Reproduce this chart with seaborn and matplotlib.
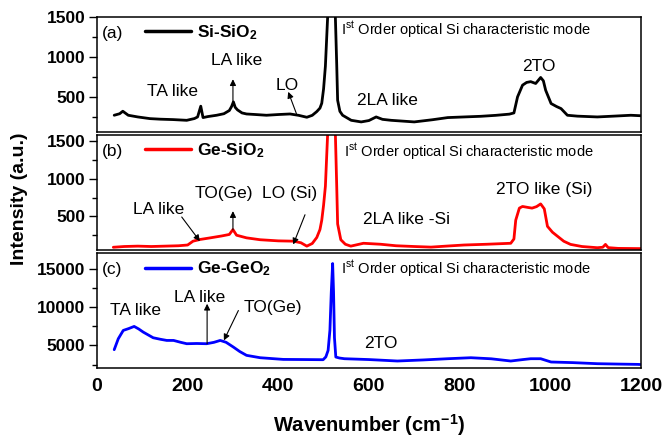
import matplotlib
matplotlib.use("Agg")
import matplotlib.pyplot as plt
import seaborn as sns
import pandas as pd
from matplotlib.ticker import MultipleLocator, AutoMinorLocator

# Raman spectra (wavenumber in cm^-1, intensity in a.u.)
wn_a = [38, 50, 57, 69, 90, 117, 140, 168, 198, 215, 222, 229, 234, 245, 264,
        280, 292, 297, 301, 305, 310, 320, 330, 350, 374, 400, 426, 445, 463,
        475, 485, 492, 496, 500, 504, 509, 513, 517, 521, 524, 526, 529, 531,
        536, 542, 561, 583, 600, 616, 630, 649, 700, 740, 774, 810, 847, 880,
        910, 920, 928, 939, 948, 957, 968, 979, 985, 990, 1002, 1014, 1024,
        1038, 1060, 1104, 1140, 1178, 1200]
int_a = [271, 290, 321, 271, 250, 229, 222, 217, 208, 230, 250, 384, 242, 255, 271,
         290, 330, 380, 438, 370, 338, 300, 287, 280, 271, 280, 287, 270, 246,
         270, 317, 360, 421, 600, 883, 1500, 4000, 8000, 9000, 6000, 1500, 900, 458,
         320, 271, 208, 188, 205, 250, 220, 208, 188, 215, 242, 250, 258, 270,
         285, 300, 500, 646, 680, 690, 667, 742, 700, 583, 417, 380, 354,
         271, 260, 250, 260, 271, 265]

wn_b = [36, 60, 90, 120, 150, 180, 200, 212, 227, 250, 275, 292, 300, 308, 330,
        360, 400, 433, 450, 463, 475, 485, 492, 496, 500, 504, 509, 513, 517,
        521, 524, 526, 529, 531, 538, 548, 560, 588, 626, 660, 700, 737, 770,
        810, 860, 913, 920, 924, 932, 939, 950, 960, 970, 979, 987, 994, 1005,
        1016, 1030, 1045, 1070, 1104, 1116, 1122, 1128, 1150, 1200]
int_b = [90, 100, 105, 100, 105, 110, 120, 171, 193, 215, 240, 260, 325, 250, 215,
         190, 175, 171, 150, 105, 140, 220, 325, 450, 650, 900, 1600, 4000, 8000,
         9000, 6000, 1600, 900, 400, 190, 130, 105, 143, 130, 110, 100, 92, 105,
         120, 130, 143, 200, 450, 610, 632, 620, 610, 630, 666, 600, 368, 290,
         237, 170, 128, 100, 84, 90, 128, 85, 75, 72]

wn_c = [38, 47, 58, 70, 82, 92, 102, 124, 140, 154, 169, 185, 198, 220, 242,
        258, 272, 285, 301, 315, 330, 360, 411, 460, 499, 505, 510, 514, 517,
        520, 522, 524, 527, 535, 546, 600, 663, 720, 774, 825, 870, 913, 940,
        957, 979, 1002, 1050, 1104, 1150, 1193, 1200]
int_c = [4440, 5870, 6960, 7200, 7480, 7150, 6740, 6000, 5800, 5650, 5650, 5400, 5220, 5250, 5220,
         5400, 5650, 5400, 4780, 4200, 3700, 3390, 3170, 3150, 3130, 3500, 4350, 7000, 12000,
         15700, 12000, 6000, 3480, 3350, 3260, 3150, 2960, 3100, 3260, 3390, 3250, 2960, 3150,
         3260, 3260, 2830, 2750, 2610, 2560, 2520, 2500]

samples = ["Si-SiO$_\\mathbf{2}$", "Ge-SiO$_\\mathbf{2}$", "Ge-GeO$_\\mathbf{2}$"]
panel_tags = ["(a)", "(b)", "(c)"]
mode_label = "I$^{\\mathrm{st}}$ Order optical Si characteristic mode"

sns.set_style("ticks")
plt.rcParams['font.family'] = ['Liberation Sans', 'DejaVu Sans']
plt.rcParams['mathtext.fontset'] = 'custom'
plt.rcParams['mathtext.rm'] = 'Liberation Sans'
plt.rcParams['mathtext.it'] = 'Liberation Sans:italic'
plt.rcParams['mathtext.bf'] = 'Liberation Sans:bold'
for key in ['text.color', 'axes.labelcolor', 'xtick.color', 'ytick.color', 'axes.edgecolor']:
    plt.rcParams[key] = 'black'

fig, axes = plt.subplots(3, 1, figsize=(6.62, 4.38), dpi=100, sharex=True)
fig.subplots_adjust(left=0.1465, right=0.968, top=0.962, bottom=0.159, hspace=0.022)

spectra = [(wn_a, int_a, "black"), (wn_b, int_b, "red"), (wn_c, int_c, "blue")]
ylims = [(60, 1500), (50, 1585), (2000, 17100)]
ysteps = [500, 500, 5000]

for i, (ax, (wn, inten, col)) in enumerate(zip(axes, spectra)):
    df = pd.DataFrame({"wn": wn, "I": inten})
    sns.lineplot(x="wn", y="I", data=df, ax=ax, color=col, linewidth=2,
                 label=samples[i], sort=False)
    ax.set_xlim(0, 1200)
    ax.set_ylim(*ylims[i])
    ax.yaxis.set_major_locator(MultipleLocator(ysteps[i]))
    ax.yaxis.set_minor_locator(AutoMinorLocator(2))
    ax.set_xlabel("")
    ax.set_ylabel("")
    ax.tick_params(axis="y", which="major", length=6, width=1, labelsize=12.5, pad=2.5)
    ax.tick_params(axis="y", which="minor", length=3.5, width=1)
    ax.tick_params(axis="x", length=0, labelsize=14, pad=7)
    for s in ax.spines.values():
        s.set_linewidth(1.1)
        s.set_color("black")
    for lab in ax.get_yticklabels():
        lab.set_fontweight("bold")
    ax.text(0.009, 0.855, panel_tags[i], transform=ax.transAxes, fontsize=12.5,
            ha="left", va="center")
    leg = ax.legend(loc="center left", bbox_to_anchor=(0.07, 0.86), frameon=False,
                    handlelength=2.6, handletextpad=0.35, borderpad=0.1,
                    prop={"weight": "bold", "size": 12.5})
    for line in leg.get_lines():
        line.set_linewidth(2.5)

for lab in axes[2].get_xticklabels():
    lab.set_fontweight("bold")
axes[2].xaxis.set_major_locator(MultipleLocator(200))
axes[2].set_xlabel("Wavenumber (cm$^{\\mathbf{-1}}$)", fontsize=14.5, fontweight="bold", labelpad=12)
axes[1].set_ylabel("Intensity (a.u.)", fontsize=14, fontweight="bold")
axes[1].yaxis.set_label_coords(-0.127, 0.45)

arrow = dict(arrowstyle="-|>", color="black", lw=0.8, mutation_scale=9, shrinkA=0, shrinkB=0)
fs = 12.5

# panel (a)
ax = axes[0]
ax.text(538, 1334, mode_label, fontsize=10.5, ha="left", va="center")
ax.text(167, 562, "TA like", fontsize=fs, ha="center", va="center")
ax.text(308, 959, "LA like", fontsize=fs, ha="center", va="center")
ax.annotate("", xy=(300, 720), xytext=(300, 400), arrowprops=arrow)
ax.text(419, 646, "LO", fontsize=fs, ha="center", va="center")
ax.annotate("", xy=(422, 563), xytext=(440, 292), arrowprops=arrow)
ax.text(640, 459, "2LA like", fontsize=fs, ha="center", va="center")
ax.text(975, 875, "2TO", fontsize=fs, ha="center", va="center")

# panel (b)
ax = axes[1]
ax.text(545, 1355, mode_label, fontsize=10.5, ha="left", va="center")
ax.text(137, 588, "LA like", fontsize=fs, ha="center", va="center")
ax.annotate("", xy=(227, 171), xytext=(187, 492), arrowprops=arrow)
ax.text(279, 808, "TO(Ge)", fontsize=fs, ha="center", va="center")
ax.annotate("", xy=(300, 570), xytext=(300, 320), arrowprops=arrow)
ax.text(426, 808, "LO (Si)", fontsize=fs, ha="center", va="center")
ax.annotate("", xy=(433, 127), xytext=(459, 522), arrowprops=arrow)
ax.text(682, 456, "2LA like -Si", fontsize=fs, ha="center", va="center")
ax.text(987, 851, "2TO like (Si)", fontsize=fs, ha="center", va="center")

# panel (c)
ax = axes[2]
ax.text(538, 15000, mode_label, fontsize=10.5, ha="left", va="center")
ax.text(85, 9564, "TA like", fontsize=fs, ha="center", va="center")
ax.text(227, 11300, "LA like", fontsize=fs, ha="center", va="center")
ax.annotate("", xy=(243, 10440), xytext=(243, 5220), arrowprops=arrow)
ax.text(389, 10000, "TO(Ge)", fontsize=fs, ha="center", va="center")
ax.annotate("", xy=(280, 5650), xytext=(312, 9560), arrowprops=arrow)
ax.text(626, 5220, "2TO", fontsize=fs, ha="center", va="center")

fig.savefig("out.png", dpi=100)
